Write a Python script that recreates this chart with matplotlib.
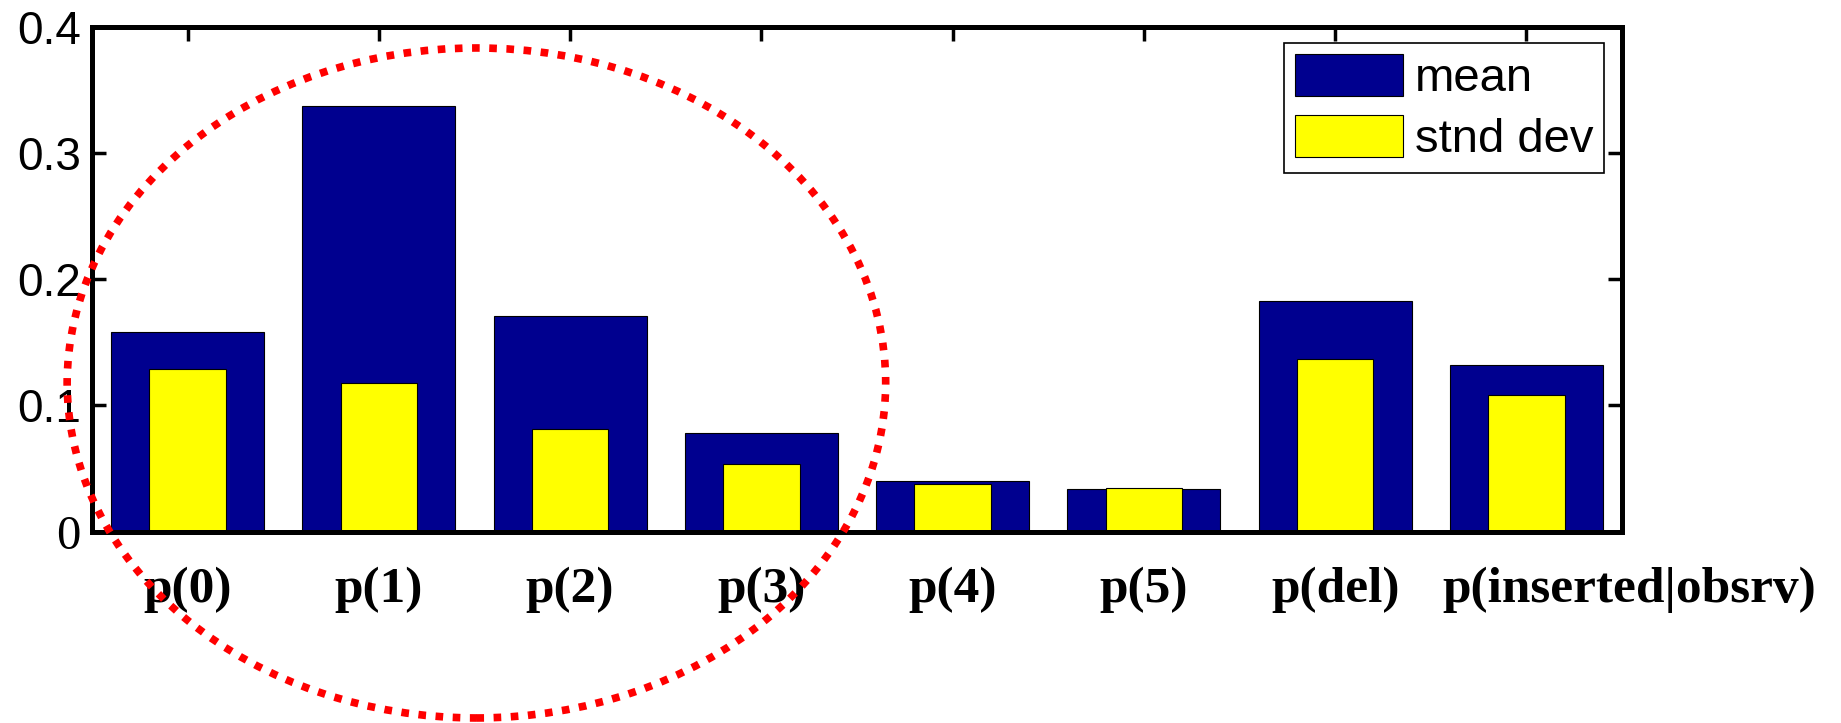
import numpy as np
import matplotlib
matplotlib.use('Agg')
import matplotlib.pyplot as plt
import matplotlib.transforms as mtransforms
from matplotlib.patches import Ellipse

# data
categories = ['p(0)', 'p(1)', 'p(2)', 'p(3)', 'p(4)', 'p(5)', 'p(del)', 'p(inserted|obsrv)']
mean_vals = [0.158, 0.337, 0.171, 0.078, 0.040, 0.034, 0.183, 0.132]
std_vals = [0.129, 0.118, 0.081, 0.054, 0.038, 0.035, 0.137, 0.108]
y_ticks = [0, 0.1, 0.2, 0.3, 0.4]
y_labels = ['0', '0.1', '0.2', '0.3', '0.4']

W, H = 1841, 723
fig = plt.figure(figsize=(W / 100, H / 100), dpi=100)
ax = fig.add_axes([92 / W, 1 - 531.7 / H, (1622 - 92) / W, (531.7 - 26.7) / H])

x = np.arange(1, len(categories) + 1)
ax.bar(x, mean_vals, width=0.8, color='#00008F', edgecolor='black', linewidth=0.8, label='mean')
ax.bar(x, std_vals, width=0.4, color='#FFFF00', edgecolor='black', linewidth=0.8, label='stnd dev')

ax.set_xlim(0.5, 8.5)
ax.set_ylim(0, 0.4)
ax.set_axisbelow(True)

ax.set_xticks(x)
# last label is drawn separately, it sits shifted to the right in the original
xlabs = ax.set_xticklabels(categories[:-1] + [''], fontfamily='Liberation Serif',
                           fontweight='bold', fontsize=37)
ax.set_yticks(y_ticks)
ylabs = ax.set_yticklabels(y_labels, fontfamily='Liberation Sans', fontsize=33)
ylabs[0].set_fontfamily('Liberation Serif')
ylabs[0].set_fontsize(35)

ax.tick_params(direction='in', length=10, width=2.5, top=True, right=True)
ax.tick_params(axis='x', pad=25)
ax.tick_params(axis='y', pad=8)
for s in ax.spines.values():
    s.set_linewidth(3.6)

ax.annotate(categories[-1], xy=(x[-1], 0), xycoords=('data', 'axes fraction'),
            xytext=(74, -25), textcoords='offset points', ha='center', va='top',
            fontfamily='Liberation Serif', fontweight='bold', fontsize=37,
            annotation_clip=False)

leg = ax.legend(loc='upper right', bbox_to_anchor=(1604 / W, 1 - 43.3 / H),
                bbox_transform=fig.transFigure, borderaxespad=0,
                prop={'family': 'Liberation Sans', 'size': 34},
                fancybox=False, shadow=False, framealpha=1,
                borderpad=0.22, labelspacing=0.3, handlelength=2.3,
                handleheight=1.0, handletextpad=0.25)
leg.get_frame().set_edgecolor('black')
leg.get_frame().set_linewidth(1.2)

# red dotted highlight around the first four categories
ring = Ellipse((2.51, 0.1178), 4.28, 0.5307, fill=False, edgecolor='#FF0000',
               linewidth=5.5, linestyle=(0, (1, 1.25)), clip_on=False, zorder=6)
ax.add_patch(ring)

fig.savefig('out.png', dpi=100)
